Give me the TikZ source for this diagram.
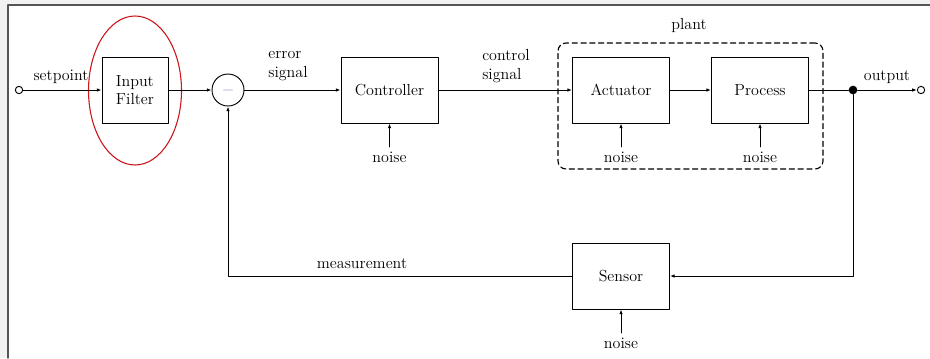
\documentclass[tikz,border=0pt]{standalone}
\usetikzlibrary{arrows.meta, positioning, shapes.geometric}
\definecolor{minuscol}{RGB}{165,140,200}
\definecolor{ringcol}{RGB}{205,20,25}
\definecolor{framecol}{RGB}{85,85,85}

\begin{document}
\begin{tikzpicture}[x=0.75pt, y=-0.75pt, >={Latex[length=3.5pt,width=2.6pt]},
	line cap=round, line join=round, font=\large,
	block/.style={draw, line width=0.7pt, minimum width=72.75pt, minimum height=49.5pt, inner sep=2pt},
	sumnode/.style={draw, circle, line width=0.7pt, minimum size=24pt, inner sep=0pt},
	port/.style={draw, circle, fill=white, line width=0.7pt, minimum size=5.5pt, inner sep=0pt},
	branch/.style={circle, fill, minimum size=6.5pt, inner sep=0pt},
	sig/.style={line width=0.7pt},
	lbl/.style={align=left, inner sep=1pt}]

% ==== page frame ====
\useasboundingbox (0,0) rectangle (930,358);
\fill[gray!10] (0,0) rectangle (930,358);
\fill[white] (8,5) rectangle (930,358);
\draw[framecol, line width=1pt] (8,358) -- (8,5) -- (930,5);

% ==== forward path ====
\node[port] (sp) at (19,90) {};
\node[lbl] (lsp) at (61,77) {setpoint};
\node[block, minimum width=49.5pt, align=left] (filter) at (135,90) {Input\\Filter};
\node[draw, ringcol, ellipse, line width=0.8pt, minimum width=69.75pt, minimum height=111.75pt] (ring) at (135,90.5) {};
\node[sumnode] (sum) at (228,90) {\textcolor{minuscol}{$-$}};
\node[lbl] (lerr) at (288,66) {error\\signal};
\node[block] (ctrl) at (389.5,90) {Controller};
\node[lbl] (lctl) at (506,66) {control\\signal};

% plant
\node[draw, dash pattern=on 4pt off 2.6pt, rounded corners=6pt, line width=0.85pt,
	minimum width=198.75pt, minimum height=94.5pt] (plant) at (690.5,106) {};
\node (lplant) at (689,25) {plant};
\node[block] (act) at (621,90) {Actuator};
\node[block] (proc) at (760,90) {Process};

% output
\node[branch] (tap) at (853,90) {};
\node[port] (out) at (921,90) {};
\node[lbl] (lout) at (887,77) {output};

% ==== feedback path ====
\node[block] (sens) at (621,276) {Sensor};
\node[lbl] (lmeas) at (362,264) {measurement};

% noise inputs
\node (nctrl) at (389.5,157) {noise};
\node (nact) at (621,157) {noise};
\node (nproc) at (760,157) {noise};
\node (nsens) at (621,343) {noise};

% ==== connectors ====
\draw[sig,->] (sp) -- (filter);
\draw[sig,->] (filter) -- (sum);
\draw[sig,->] (sum) -- (ctrl);
\draw[sig,->] (ctrl) -- (act);
\draw[sig,->] (act) -- (proc);
\draw[sig] (proc) -- (tap);
\draw[sig,->] (tap) -- (out);
\draw[sig,->] (tap) |- (sens);
\draw[sig,->] (sens) -| (sum);

\foreach \n/\b in {nctrl/ctrl, nact/act, nproc/proc, nsens/sens}
	\draw[sig,->] (\n) -- (\b);

\end{tikzpicture}
\end{document}
